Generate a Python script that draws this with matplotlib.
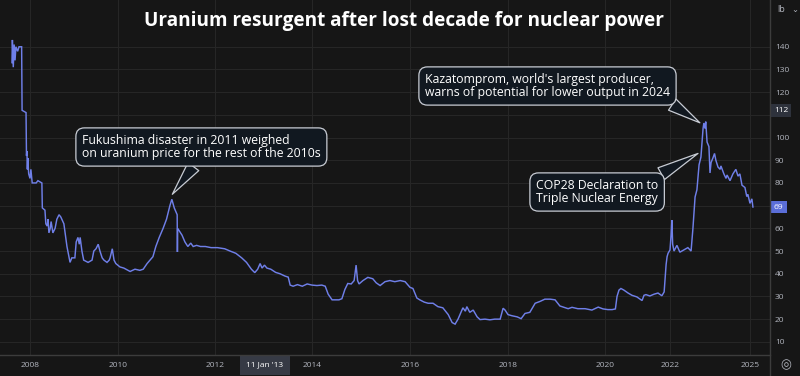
import matplotlib.pyplot as plt
import matplotlib.transforms as mtransforms
from matplotlib.lines import Line2D
import numpy as np

# uranium spot price, USD/lb (dates as shown on the chart's time axis)
years = [
    2007.59, 2007.60, 2007.62, 2007.64, 2007.66, 2007.68, 2007.72, 2007.75, 2007.81, 2007.82,
    2007.91, 2007.92, 2007.93, 2007.94, 2007.95, 2007.97, 2008.00, 2008.02, 2008.05, 2008.14,
    2008.18, 2008.27, 2008.28, 2008.34, 2008.36, 2008.39, 2008.41, 2008.43, 2008.46, 2008.48,
    2008.52, 2008.57, 2008.61, 2008.66, 2008.70, 2008.77, 2008.84, 2008.91, 2008.95, 2009.02,
    2009.05, 2009.09, 2009.12, 2009.14, 2009.18, 2009.22, 2009.32, 2009.41, 2009.45, 2009.50,
    2009.55, 2009.59, 2009.64, 2009.68, 2009.75, 2009.80, 2009.82, 2009.87, 2009.91, 2009.95,
    2010.04, 2010.12, 2010.25, 2010.35, 2010.45, 2010.52, 2010.60, 2010.66, 2010.72, 2010.78,
    2010.85, 2010.93, 2011.00, 2011.07, 2011.11, 2011.16, 2011.20, 2011.22, 2011.225, 2011.23,
    2011.26, 2011.32, 2011.38, 2011.44, 2011.50, 2011.55, 2011.62, 2011.70, 2011.80, 2011.92,
    2012.05, 2012.20, 2012.31, 2012.43, 2012.55, 2012.65, 2012.75, 2012.82, 2012.88, 2012.93,
    2012.97, 2013.02, 2013.07, 2013.15, 2013.25, 2013.34, 2013.44, 2013.51, 2013.55, 2013.61,
    2013.70, 2013.80, 2013.90, 2014.00, 2014.10, 2014.20, 2014.27, 2014.33, 2014.41, 2014.55,
    2014.61, 2014.67, 2014.73, 2014.80, 2014.86, 2014.90, 2014.93, 2014.96, 2015.04, 2015.14,
    2015.24, 2015.31, 2015.39, 2015.49, 2015.59, 2015.69, 2015.80, 2015.90, 2016.00, 2016.06,
    2016.14, 2016.20, 2016.29, 2016.37, 2016.47, 2016.57, 2016.67, 2016.78, 2016.86, 2016.92,
    2016.98, 2017.02, 2017.08, 2017.13, 2017.16, 2017.22, 2017.29, 2017.37, 2017.43, 2017.53,
    2017.63, 2017.73, 2017.84, 2017.90, 2017.94, 2018.00, 2018.08, 2018.19, 2018.27, 2018.35,
    2018.45, 2018.56, 2018.66, 2018.76, 2018.87, 2018.97, 2019.07, 2019.18, 2019.24, 2019.32,
    2019.44, 2019.59, 2019.73, 2019.86, 2019.96, 2020.09, 2020.22, 2020.32, 2020.37, 2020.43,
    2020.49, 2020.58, 2020.71, 2020.83, 2020.98, 2021.14, 2021.20, 2021.26, 2021.38, 2021.51,
    2021.63, 2021.75, 2021.82, 2021.88, 2021.91, 2021.94, 2022.00, 2022.04, 2022.07, 2022.10,
    2022.15, 2022.26, 2022.37, 2022.52, 2022.67, 2022.79, 2022.86, 2022.94, 2023.01, 2023.09,
    2023.16, 2023.24, 2023.27, 2023.31, 2023.34, 2023.39, 2023.46, 2023.50, 2023.54, 2023.61,
    2023.67, 2023.72, 2023.80, 2023.88, 2023.91, 2024.02, 2024.10, 2024.14, 2024.25, 2024.36,
    2024.47, 2024.55, 2024.62, 2024.70, 2024.81, 2024.88, 2024.92, 2025.00, 2025.07, 2025.11,
]
prices = [
    133, 143, 131, 141, 134, 140, 138, 140, 140, 112,
    111, 92, 94, 86, 91, 84, 82, 86, 80, 80,
    81, 80, 69, 68, 62, 61, 64, 58, 60, 63,
    58, 60, 64, 66, 65, 62, 52, 45, 47, 47,
    54, 56, 53, 56, 50, 46, 45, 46, 50, 51,
    53, 50, 47, 46, 45, 46, 47, 51, 46, 44.5,
    43, 42.5, 41, 42, 41.5, 42, 44.5, 46, 47.5, 52,
    56, 60, 64, 70, 72.8, 69, 67, 66, 49.6, 60,
    59, 57, 54, 52, 53.5, 52, 52.5, 52, 52, 51.5,
    51.5, 51, 50, 49, 47, 45, 42, 40.5, 42, 44.5,
    42.5, 43.8, 42.5, 42, 40.6, 40, 39, 38.5, 35, 34.5,
    35.2, 34.5, 35.5, 35, 34.8, 35, 34.5, 31, 28.5, 28.5,
    29, 33, 35.7, 35.5, 37, 43.8, 37, 35.5, 37, 38.4,
    37.8, 36, 34.8, 36.5, 37, 36.5, 37, 36.5, 34, 33.5,
    29.3, 28.5, 27.5, 27, 27, 25.5, 25, 22, 18.5, 17.8,
    20, 22, 25, 23.5, 25.5, 23, 24, 21, 19.8, 20,
    19.7, 20, 20, 24.8, 24, 22, 21.5, 21, 20.2, 22.5,
    23, 27, 27.8, 28.8, 28.8, 28.5, 25.8, 25, 24.6, 25.2,
    24.6, 24.6, 24, 25.3, 24.5, 24.2, 24.2, 24.5, 30, 32.8,
    33.5, 32.8, 31.5, 30.5, 29.8, 28.2, 30.5, 30.8, 30.2, 31,
    31.5, 30.3, 32, 44, 47.5, 49, 50.5, 57, 63.6, 53,
    50, 52.5, 49.5, 50.5, 51.5, 50, 60, 73.8, 77, 88,
    91.4, 104, 106.4, 104, 107, 98, 96, 84.4, 89, 91,
    93, 90, 87, 86, 87.5, 84, 82, 83.5, 81, 84,
    86, 83, 84, 79, 78, 74, 75, 71, 73, 69.4,
]

tick_years = [2008, 2010, 2012, 2014, 2016, 2018, 2020, 2022, 2025]
tick_labels = ['2008', '2010', '2012', '2014', '2016', '2018', '2020', '2022', '2025']
price_ticks = [10, 20, 30, 40, 50, 60, 70, 80, 90, 100, 110, 120, 130, 140]
hidden_ticks = [70, 110]  # covered by the last-price and crosshair labels

title = 'Uranium resurgent after lost decade for nuclear power'
note_fukushima = 'Fukushima disaster in 2011 weighed\non uranium price for the rest of the 2010s'
note_kazatomprom = "Kazatomprom, world's largest producer,\nwarns of potential for lower output in 2024"
note_cop28 = 'COP28 Declaration to\nTriple Nuclear Energy'

# the chart's time axis is not linear in calendar time: map years to pixels
axis_years = [2000, 2008, 2010, 2012, 2014, 2016, 2018, 2020, 2022, 2025, 2030]
axis_pix = [-322, 30, 118, 215, 312, 410, 508, 605, 670, 750, 883.3]


def fwd(x):
    return np.interp(x, axis_years, axis_pix)


def inv(p):
    return np.interp(p, axis_pix, axis_years)


bg = '#161616'
grid_col = '#262626'
label_col = '#b2b5be'
line_col = '#6f7fe8'
sep_col = '#3c3c3c'
box_fc = '#111820'
box_ec = '#c8ccd4'

W, H = 800, 376
fig = plt.figure(figsize=(W / 100, H / 100), dpi=100, facecolor=bg)
ax = fig.add_axes([0, 21 / H, 770 / W, 355 / H])
ax.set_facecolor(bg)

ax.set_xscale('function', functions=(fwd, inv))
ax.set_xlim(inv(0), inv(770))
ax.set_ylim(4.2, 160.6)

ax.plot(years, prices, color=line_col, lw=1.05, solid_joinstyle='miter', zorder=3)

ax.set_xticks(tick_years, tick_labels)
ax.set_yticks(price_ticks, ['' if p in hidden_ticks else str(p) for p in price_ticks])
ax.yaxis.tick_right()
ax.grid(True, color=grid_col, lw=0.8)
ax.tick_params(axis='x', length=0, pad=5, labelsize=6, labelcolor=label_col)
ax.tick_params(axis='y', length=0, pad=3.5, labelsize=6, labelcolor=label_col)
for lbl in ax.get_xticklabels() + ax.get_yticklabels():
    lbl.set_family('Open Sans')
for s in ax.spines.values():
    s.set_visible(False)

# separators of the price and time scales
fig.add_artist(Line2D([770 / W, 770 / W], [0, 1], color=sep_col, lw=1))
fig.add_artist(Line2D([0, 770 / W], [21 / H, 21 / H], color=sep_col, lw=1))

fig.text(404 / W, 1 - 21 / H, title, ha='center', va='center', color='white',
         fontsize=13.7, fontweight='bold', family='Open Sans')

# annotations
box = dict(boxstyle='round,pad=0.5,rounding_size=0.7', fc=box_fc, ec=box_ec, lw=0.9)
notes = [
    (note_fukushima, (2011.12, 75), (82, H - 147), (0.49, 0.03)),
    (note_kazatomprom, (2023.12, 106.5), (425, H - 86), (0.965, 0.06)),
    (note_cop28, (2023.05, 93), (536, H - 192), (0.93, 0.96)),
]
for text, tip, pos, rel in notes:
    ax.annotate(text, xy=tip, xycoords='data', xytext=pos, textcoords='figure pixels',
                ha='left', va='center', color='white', fontsize=8.8, family='Open Sans',
                linespacing=1.0, bbox=box, zorder=5,
                arrowprops=dict(arrowstyle='wedge,tail_width=1.1,shrink_factor=0.5',
                                fc=box_fc, ec=box_ec, lw=0.9, relpos=rel,
                                shrinkA=0, shrinkB=0))

# price scale labels
yt = mtransforms.blended_transform_factory(ax.transAxes, ax.transData)
ax.text(1 + 4 / 770, 112, '112', transform=yt, ha='left', va='center', fontsize=6,
        color='white', family='Open Sans', clip_on=False,
        bbox=dict(boxstyle='square,pad=0.35', fc='#2e323c', ec='none'))
ax.text(1 + 4 / 770, 69.4, '69', transform=yt, ha='left', va='center', fontsize=6,
        color='white', family='Open Sans', clip_on=False,
        bbox=dict(boxstyle='square,pad=0.35', fc='#5b6ed8', ec='none'))
fig.text(777 / W, 1 - 10 / H, 'lb', ha='left', va='center', fontsize=6.5,
         color=label_col, family='Open Sans')
fig.text(795 / W, 1 - 9 / H, '\u2304', ha='center', va='center', fontsize=6,
         color=label_col, family='DejaVu Sans')

# crosshair time label and settings icon
xt = mtransforms.blended_transform_factory(ax.transData, ax.transAxes)
ax.text(2013.03, -10 / 355, "11 Jan '13", transform=xt, ha='center', va='center',
        fontsize=6, color='white', family='Open Sans', clip_on=False,
        bbox=dict(boxstyle='square,pad=0.75', fc='#363a45', ec='none'))
fig.text(786 / W, 11 / H, '\u25CE', ha='center', va='center', fontsize=9,
         color=label_col, family='DejaVu Sans')

fig.savefig('out.png', dpi=100, facecolor=bg)
